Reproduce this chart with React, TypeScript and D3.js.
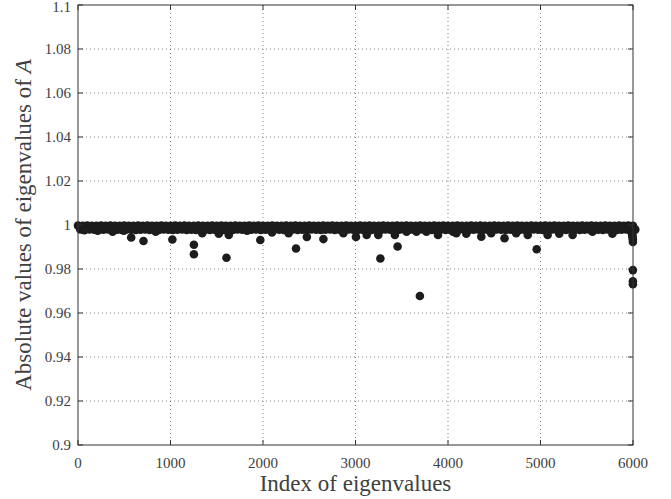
import { useEffect } from "react";
import * as d3 from "d3";

// x ticks / y ticks
const xTicks = [0, 1000, 2000, 3000, 4000, 5000, 6000];
const yTicks = [0.9, 0.92, 0.94, 0.96, 0.98, 1, 1.02, 1.04, 1.06, 1.08, 1.1];

// the dense band near 1: one column every 50 indices, upper and lower edge
const bandStep = 50;
const bandUpper = [
  0.9997, 0.9996, 0.9997, 0.9996, 0.9996, 0.9997, 0.9996, 0.9997, 0.9996, 0.9996,
  0.9997, 0.9996, 0.9996, 0.9997, 0.9996, 0.9997, 0.9996, 0.9996, 0.9997, 0.9996,
  0.9996, 0.9997, 0.9996, 0.9997, 0.9996, 0.9996, 0.9997, 0.9996, 0.9996, 0.9997,
  0.9996, 0.9997, 0.9996, 0.9996, 0.9997, 0.9996, 0.9996, 0.9997, 0.9996, 0.9997,
  0.9996, 0.9996, 0.9997, 0.9996, 0.9996, 0.9997, 0.9996, 0.9997, 0.9996, 0.9996,
  0.9997, 0.9996, 0.9996, 0.9997, 0.9996, 0.9997, 0.9996, 0.9996, 0.9997, 0.9996,
  0.9996, 0.9997, 0.9996, 0.9997, 0.9996, 0.9996, 0.9997, 0.9996, 0.9996, 0.9997,
  0.9996, 0.9997, 0.9996, 0.9996, 0.9997, 0.9996, 0.9996, 0.9997, 0.9996, 0.9997,
  0.9996, 0.9996, 0.9997, 0.9996, 0.9996, 0.9997, 0.9996, 0.9997, 0.9996, 0.9996,
  0.9997, 0.9996, 0.9996, 0.9997, 0.9996, 0.9997, 0.9996, 0.9996, 0.9997, 0.9996,
  0.9996, 0.9997, 0.9996, 0.9997, 0.9996, 0.9996, 0.9997, 0.9996, 0.9996, 0.9997,
  0.9996, 0.9997, 0.9996, 0.9996, 0.9997, 0.9996, 0.9996, 0.9997, 0.9996, 0.9997,
  0.9996,
];
const bandLower = [
  0.9980, 0.9979, 0.9980, 0.9979, 0.9978, 0.9979, 0.9980, 0.9978, 0.9979, 0.9978,
  0.9980, 0.9979, 0.9978, 0.9979, 0.9980, 0.9978, 0.9979, 0.9978, 0.9980, 0.9979,
  0.9978, 0.9979, 0.9980, 0.9978, 0.9979, 0.9978, 0.9980, 0.9979, 0.9978, 0.9979,
  0.9980, 0.9978, 0.9979, 0.9978, 0.9980, 0.9979, 0.9978, 0.9979, 0.9980, 0.9978,
  0.9979, 0.9978, 0.9980, 0.9979, 0.9978, 0.9979, 0.9980, 0.9978, 0.9979, 0.9978,
  0.9980, 0.9979, 0.9978, 0.9979, 0.9980, 0.9978, 0.9979, 0.9978, 0.9980, 0.9979,
  0.9978, 0.9979, 0.9980, 0.9978, 0.9979, 0.9978, 0.9980, 0.9979, 0.9978, 0.9979,
  0.9980, 0.9978, 0.9979, 0.9978, 0.9980, 0.9979, 0.9978, 0.9979, 0.9980, 0.9978,
  0.9979, 0.9978, 0.9980, 0.9979, 0.9978, 0.9979, 0.9980, 0.9978, 0.9979, 0.9978,
  0.9980, 0.9979, 0.9978, 0.9979, 0.9980, 0.9978, 0.9979, 0.9978, 0.9980, 0.9979,
  0.9978, 0.9979, 0.9980, 0.9978, 0.9979, 0.9978, 0.9980, 0.9979, 0.9978, 0.9979,
  0.9980, 0.9978, 0.9979, 0.9978, 0.9980, 0.9979, 0.9978, 0.9979, 0.9980, 0.9978,
  0.9979,
];

// dips below the band and isolated eigenvalues
const outlierIndex = [
  68, 212, 374, 496, 575, 708, 840, 1020, 1253, 1253, 1343, 1522, 1605, 1630, 1828,
  1971, 2097, 2277, 2357, 2474, 2653, 2869, 3005, 3121, 3246, 3269, 3426, 3455,
  3552, 3659, 3696, 3767, 3892, 4054, 4090, 4198, 4360, 4467, 4611, 4737, 4862,
  4959, 5077, 5203, 5347, 5562, 5777,
];
const outlierValue = [
  0.9976, 0.9974, 0.9969, 0.9974, 0.9943, 0.9927, 0.9969, 0.9934, 0.991, 0.9867, 0.9963,
  0.996, 0.9851, 0.9955, 0.9974, 0.9932, 0.9966, 0.9963, 0.9893, 0.9946, 0.9936,
  0.9963, 0.9946, 0.9955, 0.9955, 0.9848, 0.9955, 0.9902, 0.997, 0.997, 0.9677,
  0.997, 0.9955, 0.997, 0.9963, 0.996, 0.9947, 0.9963, 0.994, 0.9963, 0.9955,
  0.989, 0.9955, 0.996, 0.9955, 0.9969, 0.996,
];

// tail at the last indices
const tailIndex = [5950, 5960, 5968, 5975, 5980, 5985, 5990, 5993, 5996, 5998, 5999, 5999, 5999, 5999];
const tailValue = [0.9992, 0.9988, 0.9984, 0.9978, 0.9972, 0.9966, 0.996, 0.9952, 0.9944, 0.9935, 0.9923, 0.9795, 0.9744, 0.9731];

const W = 671;
const H = 499;
const left = 78;
const right = 633;
const top = 5;
const bottom = 445;

const App = () => {
  useEffect(() => {
    document.body.style.margin = "0";
  }, []);

  const x = d3.scaleLinear().domain([0, 6000]).range([left, right]);
  const y = d3.scaleLinear().domain([0.9, 1.1]).range([bottom, top]);

  const points: [number, number][] = [];
  bandUpper.forEach((v, i) => points.push([i * bandStep, v]));
  bandLower.forEach((v, i) => points.push([i * bandStep + 25, v]));
  outlierIndex.forEach((k, i) => points.push([k, outlierValue[i]]));
  tailIndex.forEach((k, i) => points.push([k, tailValue[i]]));

  const axisColor = "#333";
  const textColor = "#404040";
  const font = { fontFamily: '"Liberation Serif", "Times New Roman", "DejaVu Serif", serif' };

  return (
    <svg width={W} height={H} style={{ display: "block", background: "#fff" }}>
      {/* grid */}
      {xTicks.slice(1, -1).map((t) => (
        <line key={"gx" + t} x1={x(t)} x2={x(t)} y1={top} y2={bottom}
          stroke="#666" strokeWidth={0.8} strokeDasharray="1,3" />
      ))}
      {yTicks.slice(1, -1).map((t) => (
        <line key={"gy" + t} x1={left} x2={right} y1={y(t)} y2={y(t)}
          stroke="#666" strokeWidth={0.8} strokeDasharray="1,3" />
      ))}

      {/* points */}
      {points.map((p, i) => (
        <circle key={i} cx={x(p[0])} cy={y(p[1])} r={4.3} fill="#1c1c1c" />
      ))}

      {/* box */}
      <rect x={left} y={top} width={right - left} height={bottom - top}
        fill="none" stroke={axisColor} strokeWidth={1} />

      {/* ticks */}
      {xTicks.map((t) => (
        <g key={"tx" + t}>
          <line x1={x(t)} x2={x(t)} y1={bottom} y2={bottom - 5} stroke={axisColor} />
          <line x1={x(t)} x2={x(t)} y1={top} y2={top + 5} stroke={axisColor} />
          <text x={x(t)} y={468} textAnchor="middle" style={font} fontSize={15} fill={textColor}>
            {t}
          </text>
        </g>
      ))}
      {yTicks.map((t) => (
        <g key={"ty" + t}>
          <line x1={left} x2={left + 5} y1={y(t)} y2={y(t)} stroke={axisColor} />
          <line x1={right} x2={right - 5} y1={y(t)} y2={y(t)} stroke={axisColor} />
          <text x={71} y={y(t) + (t === 1.1 ? 2 : 0)} dy="0.35em" textAnchor="end" style={font} fontSize={15} fill={textColor}>
            {d3.format("~g")(t)}
          </text>
        </g>
      ))}

      {/* axis labels */}
      <text x={(left + right) / 2} y={491} textAnchor="middle" style={font} fontSize={23} fill={textColor}>
        Index of eigenvalues
      </text>
      <text transform={`translate(31,${(top + bottom) / 2}) rotate(-90)`} textAnchor="middle"
        style={font} fontSize={23} fill={textColor}>
        Absolute values of eigenvalues of <tspan fontStyle="italic">A</tspan>
      </text>
    </svg>
  );
};

export default App;
